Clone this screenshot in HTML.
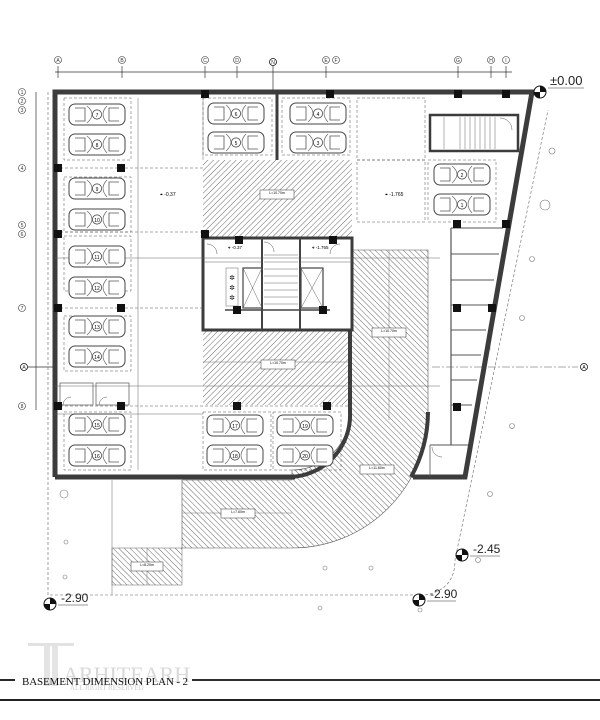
<!DOCTYPE html>
<html><head><meta charset="utf-8"><style>
html,body{margin:0;padding:0;background:#fff;}
svg{display:block;font-family:"Liberation Sans",sans-serif;}
</style></head><body>
<svg width="600" height="720" viewBox="0 0 600 720" xmlns="http://www.w3.org/2000/svg">
<defs>
<pattern id="h1" width="4" height="4" patternUnits="userSpaceOnUse" patternTransform="rotate(45)"><line x1="0" y1="0" x2="0" y2="4" stroke="#444" stroke-width="0.8"/></pattern>
<pattern id="h2" width="4" height="4" patternUnits="userSpaceOnUse" patternTransform="rotate(-45)"><line x1="0" y1="0" x2="0" y2="4" stroke="#444" stroke-width="0.8"/></pattern>
<g id="car">
<rect x="0" y="0" width="56" height="21" rx="6" fill="#fff" stroke="#444" stroke-width="1"/>
<path d="M6,4 h10 v13 h-10 M50,4 h-10 v13 h10" fill="none" stroke="#555" stroke-width="0.8"/>
<path d="M18,2 q10,8 0,17 M38,2 q-8,8 0,17" fill="none" stroke="#666" stroke-width="0.7"/>
<circle cx="28" cy="10.5" r="4.6" fill="#fff" stroke="#333" stroke-width="0.7"/>
</g>
<g id="col"><rect x="-4" y="-4" width="8" height="8" fill="#111"/></g>
</defs>

<line x1="55" y1="72" x2="512" y2="72" stroke="#333" stroke-width="0.7"/>
<g stroke="#333" stroke-width="0.7">
<line x1="58" y1="66" x2="58" y2="78"/><line x1="122" y1="66" x2="122" y2="78"/><line x1="205" y1="66" x2="205" y2="78"/><line x1="237" y1="66" x2="237" y2="78"/><line x1="273" y1="66" x2="273" y2="92"/><line x1="326" y1="66" x2="326" y2="78"/><line x1="458" y1="66" x2="458" y2="78"/><line x1="491" y1="66" x2="491" y2="78"/><line x1="506" y1="66" x2="506" y2="78"/>
</g>
<g font-size="5" fill="#333" text-anchor="middle">
<circle cx="58" cy="60" r="3.5" fill="#fff" stroke="#333" stroke-width="0.6"/><text x="58" y="62">A</text>
<circle cx="122" cy="60" r="3.5" fill="#fff" stroke="#333" stroke-width="0.6"/><text x="122" y="62">B</text>
<circle cx="205" cy="60" r="3.5" fill="#fff" stroke="#333" stroke-width="0.6"/><text x="205" y="62">C</text>
<circle cx="237" cy="60" r="3.5" fill="#fff" stroke="#333" stroke-width="0.6"/><text x="237" y="62">D</text>
<circle cx="273" cy="62" r="3.5" fill="#fff" stroke="#111" stroke-width="0.8"/><text x="273" y="64">N</text>
<circle cx="326" cy="60" r="3.5" fill="#fff" stroke="#333" stroke-width="0.6"/><text x="326" y="62">E</text>
<circle cx="336" cy="60" r="3.5" fill="#fff" stroke="#333" stroke-width="0.6"/><text x="336" y="62">F</text>
<circle cx="458" cy="60" r="3.5" fill="#fff" stroke="#333" stroke-width="0.6"/><text x="458" y="62">G</text>
<circle cx="491" cy="60" r="3.5" fill="#fff" stroke="#333" stroke-width="0.6"/><text x="491" y="62">H</text>
<circle cx="506" cy="60" r="3.5" fill="#fff" stroke="#333" stroke-width="0.6"/><text x="506" y="62">I</text>
</g>
<line x1="36" y1="92" x2="36" y2="410" stroke="#333" stroke-width="0.7"/>
<g font-size="5" fill="#333" text-anchor="middle">
<circle cx="22" cy="92" r="3.5" fill="#fff" stroke="#333" stroke-width="0.6"/><text x="22" y="94">1</text>
<circle cx="22" cy="101" r="3.5" fill="#fff" stroke="#333" stroke-width="0.6"/><text x="22" y="103">2</text>
<circle cx="22" cy="110" r="3.5" fill="#fff" stroke="#333" stroke-width="0.6"/><text x="22" y="112">3</text>
<circle cx="22" cy="168" r="3.5" fill="#fff" stroke="#333" stroke-width="0.6"/><text x="22" y="170">4</text>
<circle cx="22" cy="225" r="3.5" fill="#fff" stroke="#333" stroke-width="0.6"/><text x="22" y="227">5</text>
<circle cx="22" cy="234" r="3.5" fill="#fff" stroke="#333" stroke-width="0.6"/><text x="22" y="236">6</text>
<circle cx="22" cy="308" r="3.5" fill="#fff" stroke="#333" stroke-width="0.6"/><text x="22" y="310">7</text>
<circle cx="24" cy="367" r="3.5" fill="#fff" stroke="#111" stroke-width="0.8"/><text x="24" y="369">A</text>
<circle cx="22" cy="406" r="3.5" fill="#fff" stroke="#333" stroke-width="0.6"/><text x="22" y="408">8</text>
</g>
<line x1="28" y1="367" x2="55" y2="367" stroke="#333" stroke-width="0.8"/>
<line x1="432" y1="367" x2="578" y2="367" stroke="#555" stroke-width="0.6" stroke-dasharray="8,2,2,2"/>
<circle cx="584" cy="367" r="3.5" fill="#fff" stroke="#111" stroke-width="0.8"/><text x="584" y="369" font-size="5" text-anchor="middle">A</text>

<path d="M48,92 L48,595 L425,595 Q455,590 455,560 L548,110" fill="none" stroke="#666" stroke-width="0.6" stroke-dasharray="3,2"/>
<path d="M532,96 L490,330 L490,350" fill="none" stroke="#777" stroke-width="0.5" stroke-dasharray="3,2"/>

<rect x="203" y="160" width="149" height="78" fill="url(#h1)"/>
<rect x="203" y="330" width="149" height="75" fill="url(#h1)"/>
<line x1="203" y1="362" x2="352" y2="362" stroke="#777" stroke-width="0.5"/>
<path d="M350,250 L428,250 L428,412 A136,136 0 0 1 292,548 L182,548 L182,480 L292,480 L292,470 A58,58 0 0 0 350,412 Z" fill="url(#h2)" stroke="#555" stroke-width="0.6"/>
<line x1="389" y1="250" x2="389" y2="420" stroke="#777" stroke-width="0.5"/>
<line x1="182" y1="513" x2="292" y2="513" stroke="#777" stroke-width="0.5"/>
<rect x="112" y="548" width="70" height="37" fill="url(#h2)" stroke="#666" stroke-width="0.5"/>
<line x1="147" y1="548" x2="147" y2="585" stroke="#777" stroke-width="0.5"/>
<line x1="112" y1="480" x2="112" y2="595" stroke="#666" stroke-width="0.5"/>

<path d="M55,477 L55,92 L532,92 L465,477 L413,477" fill="none" stroke="#3c3c3c" stroke-width="5"/>
<line x1="55" y1="477" x2="295" y2="477" stroke="#3c3c3c" stroke-width="5"/>
<path d="M350,240 L350,412 A62,62 0 0 1 290,477" fill="none" stroke="#3c3c3c" stroke-width="4"/>
<path d="M428,412 A136,136 0 0 1 411,477" fill="none" stroke="#3c3c3c" stroke-width="4"/>
<line x1="277" y1="92" x2="277" y2="160" stroke="#3c3c3c" stroke-width="3"/>
<line x1="203" y1="92" x2="203" y2="160" stroke="#888" stroke-width="0.6"/>

<rect x="203" y="238" width="149" height="92" fill="#fff" stroke="#3c3c3c" stroke-width="3"/>
<line x1="262" y1="238" x2="262" y2="330" stroke="#444" stroke-width="2"/>
<line x1="300" y1="238" x2="300" y2="330" stroke="#444" stroke-width="2"/>
<g stroke="#666" stroke-width="0.5"><line x1="264" y1="255" x2="298" y2="255"/><line x1="264" y1="262" x2="298" y2="262"/><line x1="264" y1="269" x2="298" y2="269"/><line x1="264" y1="276" x2="298" y2="276"/><line x1="264" y1="283" x2="298" y2="283"/><line x1="264" y1="290" x2="298" y2="290"/><line x1="264" y1="297" x2="298" y2="297"/><line x1="264" y1="304" x2="298" y2="304"/></g>
<rect x="243" y="268" width="19" height="40" fill="none" stroke="#444" stroke-width="1.2"/><path d="M243,268 L262,308 M262,268 L243,308" stroke="#666" stroke-width="0.5"/>
<rect x="301" y="268" width="22" height="40" fill="none" stroke="#444" stroke-width="1.2"/><path d="M301,268 L323,308 M323,268 L301,308" stroke="#666" stroke-width="0.5"/>
<rect x="226" y="268" width="12" height="38" fill="#fff" stroke="#666" stroke-width="0.5"/>
<text x="232" y="280" font-size="7" text-anchor="middle">✲</text><text x="232" y="290" font-size="7" text-anchor="middle">✲</text><text x="232" y="300" font-size="7" text-anchor="middle">✲</text>
<line x1="225" y1="310" x2="330" y2="310" stroke="#444" stroke-width="1.5"/>
<line x1="203" y1="262" x2="262" y2="262" stroke="#666" stroke-width="0.6"/><line x1="300" y1="262" x2="352" y2="262" stroke="#666" stroke-width="0.6"/>
<path d="M207,244 A10,10 0 0 1 217,254" fill="none" stroke="#555" stroke-width="0.5"/>
<path d="M340,244 A10,10 0 0 0 330,254" fill="none" stroke="#555" stroke-width="0.5"/>
<path d="M264,242 A10,10 0 0 1 274,252" fill="none" stroke="#555" stroke-width="0.5"/>
<text x="228" y="249" font-size="4.5">⌖ -0.37</text><text x="312" y="249" font-size="4.5">⌖ -1.765</text>

<rect x="430" y="115" width="88" height="36" fill="#fff" stroke="#3c3c3c" stroke-width="2.5"/>
<g stroke="#666" stroke-width="0.5"><line x1="460" y1="117" x2="460" y2="149"/><line x1="465" y1="117" x2="465" y2="149"/><line x1="470" y1="117" x2="470" y2="149"/><line x1="475" y1="117" x2="475" y2="149"/><line x1="480" y1="117" x2="480" y2="149"/><line x1="485" y1="117" x2="485" y2="149"/><line x1="490" y1="117" x2="490" y2="149"/><line x1="495" y1="117" x2="495" y2="149"/><line x1="444" y1="117" x2="444" y2="149"/></g>
<path d="M500,118 A12,12 0 0 1 512,130" fill="none" stroke="#555" stroke-width="0.5"/>

<line x1="451" y1="228" x2="451" y2="445" stroke="#555" stroke-width="1.2"/>
<g stroke="#555" stroke-width="1">
<line x1="451" y1="228" x2="503" y2="228"/><line x1="451" y1="254" x2="499" y2="254"/><line x1="451" y1="280" x2="494" y2="280"/><line x1="451" y1="305" x2="490" y2="305"/><line x1="451" y1="330" x2="486" y2="330"/><line x1="451" y1="355" x2="481" y2="355"/><line x1="451" y1="380" x2="477" y2="380"/><line x1="451" y1="405" x2="472" y2="405"/><line x1="430" y1="445" x2="468" y2="445"/>
</g>
<line x1="430" y1="445" x2="430" y2="477" stroke="#555" stroke-width="0.8"/>
<path d="M432,447 A10,10 0 0 0 442,457" fill="none" stroke="#555" stroke-width="0.5"/>

<g fill="none" stroke="#555" stroke-width="0.5" stroke-dasharray="3,2">
<rect x="64" y="98" width="67" height="62"/><rect x="64" y="177" width="67" height="55"/><rect x="64" y="236" width="67" height="55"/><rect x="64" y="316" width="67" height="55"/><rect x="64" y="412" width="67" height="58"/>
<rect x="203" y="98" width="69" height="57"/><rect x="282" y="98" width="68" height="57"/>
<rect x="357" y="98" width="68" height="62"/><rect x="357" y="160" width="68" height="62"/><rect x="428" y="160" width="68" height="62"/>
<rect x="203" y="412" width="68" height="58"/><rect x="273" y="412" width="68" height="58"/>
<line x1="55" y1="168" x2="203" y2="168"/><line x1="55" y1="308" x2="203" y2="308"/><line x1="55" y1="406" x2="352" y2="406"/><line x1="55" y1="232" x2="203" y2="232"/>
</g>
<g stroke="#666" stroke-width="0.5">
<line x1="138" y1="98" x2="138" y2="470"/><line x1="55" y1="258" x2="440" y2="258"/><line x1="55" y1="386" x2="440" y2="386"/><line x1="55" y1="414" x2="203" y2="414"/>
</g>
<rect x="60" y="383" width="33" height="22" fill="none" stroke="#555" stroke-width="0.7"/><rect x="96" y="383" width="33" height="22" fill="none" stroke="#555" stroke-width="0.7"/>
<path d="M63,405 A8,8 0 0 1 71,397" fill="none" stroke="#555" stroke-width="0.5"/><path d="M99,405 A8,8 0 0 1 107,397" fill="none" stroke="#555" stroke-width="0.5"/>

<use href="#car" x="69" y="104"/><text x="97" y="117" font-size="5" text-anchor="middle">7</text>
<use href="#car" x="69" y="134"/><text x="97" y="147" font-size="5" text-anchor="middle">8</text>
<use href="#car" x="69" y="178"/><text x="97" y="191" font-size="5" text-anchor="middle">9</text>
<use href="#car" x="69" y="209"/><text x="97" y="222" font-size="5" text-anchor="middle">10</text>
<use href="#car" x="69" y="246"/><text x="97" y="259" font-size="5" text-anchor="middle">11</text>
<use href="#car" x="69" y="277"/><text x="97" y="290" font-size="5" text-anchor="middle">12</text>
<use href="#car" x="69" y="316"/><text x="97" y="329" font-size="5" text-anchor="middle">13</text>
<use href="#car" x="69" y="346"/><text x="97" y="359" font-size="5" text-anchor="middle">14</text>
<use href="#car" x="69" y="414"/><text x="97" y="427" font-size="5" text-anchor="middle">15</text>
<use href="#car" x="69" y="445"/><text x="97" y="458" font-size="5" text-anchor="middle">16</text>
<use href="#car" x="208" y="103"/><text x="236" y="116" font-size="5" text-anchor="middle">6</text>
<use href="#car" x="208" y="132"/><text x="236" y="145" font-size="5" text-anchor="middle">5</text>
<use href="#car" x="290" y="103"/><text x="318" y="116" font-size="5" text-anchor="middle">4</text>
<use href="#car" x="290" y="132"/><text x="318" y="145" font-size="5" text-anchor="middle">3</text>
<use href="#car" x="434" y="164"/><text x="462" y="177" font-size="5" text-anchor="middle">2</text>
<use href="#car" x="434" y="194"/><text x="462" y="207" font-size="5" text-anchor="middle">1</text>
<use href="#car" x="207" y="415"/><text x="235" y="428" font-size="5" text-anchor="middle">17</text>
<use href="#car" x="207" y="445"/><text x="235" y="458" font-size="5" text-anchor="middle">18</text>
<use href="#car" x="277" y="415"/><text x="305" y="428" font-size="5" text-anchor="middle">19</text>
<use href="#car" x="277" y="445"/><text x="305" y="458" font-size="5" text-anchor="middle">20</text>

<use href="#col" x="205" y="94"/><use href="#col" x="330" y="94"/><use href="#col" x="458" y="94"/><use href="#col" x="506" y="94"/>
<use href="#col" x="58" y="168"/><use href="#col" x="121" y="168"/><use href="#col" x="58" y="234"/><use href="#col" x="205" y="234"/>
<use href="#col" x="58" y="308"/><use href="#col" x="121" y="308"/><use href="#col" x="237" y="310"/><use href="#col" x="323" y="310"/>
<use href="#col" x="239" y="240"/><use href="#col" x="333" y="240"/>
<use href="#col" x="58" y="406"/><use href="#col" x="121" y="406"/><use href="#col" x="237" y="406"/><use href="#col" x="327" y="406"/>
<use href="#col" x="457" y="224"/><use href="#col" x="506" y="224"/><use href="#col" x="457" y="308"/><use href="#col" x="492" y="308"/><use href="#col" x="457" y="407"/>

<g font-size="3.5" text-anchor="middle">
<rect x="260" y="190" width="34" height="9" fill="#fff" stroke="#333" stroke-width="0.5"/><text x="277" y="194">L=10.70m</text>
<rect x="261" y="360" width="34" height="9" fill="#fff" stroke="#333" stroke-width="0.5"/><text x="278" y="364">L=10.70m</text>
<rect x="372" y="328" width="34" height="9" fill="#fff" stroke="#333" stroke-width="0.5"/><text x="389" y="332">L=10.70m</text>
<rect x="360" y="465" width="34" height="9" fill="#fff" stroke="#333" stroke-width="0.5"/><text x="377" y="469">L=11.60m</text>
<rect x="221" y="509" width="34" height="9" fill="#fff" stroke="#333" stroke-width="0.5"/><text x="238" y="513">L=7.60m</text>
<rect x="131" y="562" width="32" height="9" fill="#fff" stroke="#333" stroke-width="0.5"/><text x="147" y="566">L=8.20m</text>
</g>
<text x="160" y="196" font-size="5">⌖ -0.37</text><text x="385" y="196" font-size="5">⌖ -1.765</text>

<g>
<circle cx="540" cy="92" r="6" fill="#fff" stroke="#111" stroke-width="1"/><path d="M540,92 L540,86 A6,6 0 0 1 546,92 Z M540,92 L540,98 A6,6 0 0 1 534,92 Z" fill="#111"/>
<text x="550" y="85" font-size="13" fill="#222">±0.00</text><line x1="548" y1="88" x2="584" y2="88" stroke="#333" stroke-width="0.5"/>
<circle cx="462" cy="555" r="6" fill="#fff" stroke="#111" stroke-width="1"/><path d="M462,555 L462,549 A6,6 0 0 1 468,555 Z M462,555 L462,561 A6,6 0 0 1 456,555 Z" fill="#111"/>
<text x="473" y="553" font-size="12" fill="#222">-2.45</text><line x1="470" y1="556" x2="500" y2="556" stroke="#333" stroke-width="0.5"/>
<circle cx="50" cy="604" r="6" fill="#fff" stroke="#111" stroke-width="1"/><path d="M50,604 L50,598 A6,6 0 0 1 56,604 Z M50,604 L50,610 A6,6 0 0 1 44,604 Z" fill="#111"/>
<text x="61" y="602" font-size="12" fill="#222">-2.90</text><line x1="58" y1="605" x2="88" y2="605" stroke="#333" stroke-width="0.5"/>
<circle cx="419" cy="600" r="6" fill="#fff" stroke="#111" stroke-width="1"/><path d="M419,600 L419,594 A6,6 0 0 1 425,600 Z M419,600 L419,606 A6,6 0 0 1 413,600 Z" fill="#111"/>
<text x="430" y="598" font-size="12" fill="#222">-2.90</text><line x1="427" y1="601" x2="456" y2="601" stroke="#333" stroke-width="0.5"/>
</g>
<g fill="none" stroke="#777" stroke-width="0.6">
<circle cx="552" cy="151" r="3"/><circle cx="545" cy="205" r="5"/><circle cx="532" cy="259" r="2.5"/><circle cx="522" cy="318" r="2.5"/><circle cx="512" cy="426" r="2.5"/><circle cx="490" cy="494" r="2.5"/><circle cx="478" cy="560" r="2.5"/><circle cx="64" cy="494" r="4"/><circle cx="66" cy="542" r="2"/><circle cx="65" cy="577" r="2"/><circle cx="325" cy="568" r="2"/><circle cx="371" cy="568" r="2"/><circle cx="420" cy="610" r="2"/><circle cx="320" cy="608" r="2"/>
</g>

<g fill="#ddd" font-size="22" font-family="Liberation Serif,serif">
<rect x="28" y="643" width="46" height="3" fill="#e2e2e2"/><rect x="44" y="646" width="6" height="40" fill="#e4e4e4"/><rect x="52" y="646" width="6" height="40" fill="#e4e4e4"/>
<text x="63" y="682" fill="#d8d8d8">ARHITEARH</text>
<text x="70" y="690" font-size="7" fill="#d0d0d0">ALL RIGHT RESERVED</text>
</g>
<line x1="0" y1="680" x2="15" y2="680" stroke="#111" stroke-width="1.8"/>
<line x1="192" y1="680" x2="600" y2="680" stroke="#111" stroke-width="1.8"/>
<text x="22" y="685" font-size="11" font-family="Liberation Serif,serif" fill="#111" textLength="166">BASEMENT DIMENSION PLAN - 2</text>
<line x1="0" y1="700" x2="600" y2="700" stroke="#222" stroke-width="2"/>
</svg>
</body></html>
